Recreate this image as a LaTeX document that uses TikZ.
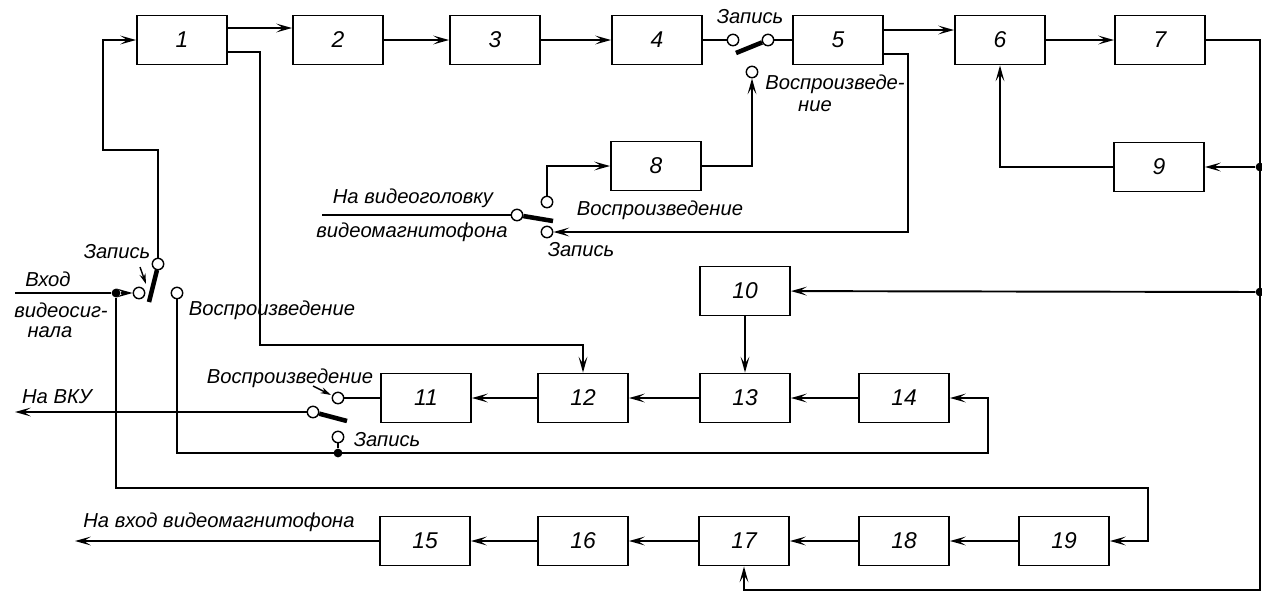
\documentclass[tikz,border=0pt]{standalone}
\usepackage{fontspec}
\setmainfont{Liberation Sans}
\usetikzlibrary{arrows.meta}
\tikzset{
  blk/.style={draw, line width=1.1pt, minimum width=1.8cm, minimum height=0.98cm, inner sep=0pt, font=\itshape\fontsize{13}{13}\selectfont},
  lbl/.style={inner sep=0pt, font=\itshape\fontsize{11.5}{13}\selectfont},
  wire/.style={line width=1.1pt},
  arr/.style={wire, -{Stealth[length=9pt, width=5pt, inset=4pt]}},
  ptr/.style={line width=0.8pt, -{Stealth[length=6pt, width=3.5pt, inset=2pt]}},
  contact/.style={circle, draw, line width=0.8pt, fill=white, inner sep=0pt, minimum size=6.5pt},
  junct/.style={circle, fill=black, inner sep=0pt, minimum size=5pt},
  blade/.style={line width=2.6pt},
}
\begin{document}
\begin{tikzpicture}[x=0.02cm, y=-0.02cm]
\useasboundingbox (0,0) rectangle (1262,596);

% blocks
\node[blk] (b1) at (182,40) {1};
\node[blk] (b2) at (338,40) {2};
\node[blk] (b3) at (495,40) {3};
\node[blk] (b4) at (657,40) {4};
\node[blk] (b5) at (838,40) {5};
\node[blk] (b6) at (1000,40) {6};
\node[blk] (b7) at (1160,40) {7};
\node[blk] (b8) at (656,166) {8};
\node[blk] (b9) at (1159,167) {9};
\node[blk] (b10) at (745,291) {10};
\node[blk] (b11) at (426,398) {11};
\node[blk] (b12) at (583,398) {12};
\node[blk] (b13) at (745,398) {13};
\node[blk] (b14) at (904,398) {14};
\node[blk] (b15) at (425,541) {15};
\node[blk] (b16) at (583,541) {16};
\node[blk] (b17) at (744,541) {17};
\node[blk] (b18) at (904,541) {18};
\node[blk] (b19) at (1064,541) {19};

% contacts
\node[contact] (tin) at (139,293) {};
\node[contact] (tz) at (158,264) {};
\node[contact] (tp) at (177,293) {};
\node[contact] (s4a) at (733,40) {};
\node[contact] (s4b) at (768,40) {};
\node[contact] (s4c) at (752,72) {};
\node[contact] (vh) at (517,215) {};
\node[contact] (vhp) at (547,202) {};
\node[contact] (vhz) at (547,232) {};
\node[contact] (vp) at (313,412) {};
\node[contact] (vkp) at (338,398) {};
\node[contact] (vkz) at (338,437) {};

% junctions
\node[junct] (jin) at (116,293) {};
\node[junct] (j9) at (1260,167) {};
\node[junct] (j10) at (1260,292) {};
\node[junct] (j14) at (338,453) {};

% free ends
\coordinate (vin) at (15,293);
\coordinate (vku) at (15,412);
\coordinate (vout) at (75,541);
\coordinate (vhl) at (322,215);
\coordinate (tb1) at (149,302);
\coordinate (tb2) at (157,270);
\coordinate (s4t) at (736,53);
\coordinate (vht) at (553,221);
\coordinate (vkt) at (347,421);
\coordinate (pz1) at (140,267);
\coordinate (pz2) at (146,284);
\coordinate (pv1) at (313,386);
\coordinate (pv2) at (331,395);

% upper chain
\draw[arr] (b1.east |- 0,28) -- (b2.west |- 0,28);
\draw[arr] (b2) -- (b3);
\draw[arr] (b3) -- (b4);
\draw[wire] (b4) -- (s4a);
\draw[wire] (s4b) -- (b5);
\draw[blade] (s4b) -- (s4t);
\draw[arr] (b8.east) -| (s4c);
\draw[arr] (b5.east |- 0,30) -- (b6.west |- 0,30);
\draw[arr] (b6) -- (b7);
\draw[arr] (b7.east) -| (1260,590) -| (b17.south);
\draw[arr] (j9) -- (b9);
\draw[arr] (b9.west) -| (b6.south);
\draw[arr] (j10) -- (b10);

% video head switch
\draw[wire] (vhl) -- (vh);
\draw[blade] (vh) -- (vht);
\draw[arr] (vhp) |- (b8.west);
\draw[arr] (b5.east |- 0,54) -| (908,232) -- (vhz);

% input switch
\draw[wire] (vin) -- (jin);
\draw[arr] (jin) -- (tin);
\draw[blade] (tb1) -- (tb2);
\draw[arr] (tz) |- (103,150) |- (b1.west);
\draw[arr] (jin) |- (1148,488) |- (b19.east);
\draw[arr] (tp) |- (988,453) |- (b14.east);
\draw[ptr] (pz1) -- (pz2);

% lower chain
\draw[arr] (b1.east |- 0,52) -| (260,345) -| (b12.north);
\draw[arr] (b10) -- (b13);
\draw[arr] (b14) -- (b13);
\draw[arr] (b13) -- (b12);
\draw[arr] (b12) -- (b11);
\draw[wire] (b11) -- (vkp);
\draw[arr] (vp) -- (vku);
\draw[blade] (vp) -- (vkt);
\draw[wire] (j14) -- (vkz);
\draw[ptr] (pv1) -- (pv2);
\draw[arr] (b19) -- (b18);
\draw[arr] (b18) -- (b17);
\draw[arr] (b17) -- (b16);
\draw[arr] (b16) -- (b15);
\draw[arr] (b15) -- (vout);

% labels
\node[lbl] (lz1) at (750,17) {Запись};
\node[lbl] (lv1a) at (835,84) {Воспроизведе-};
\node[lbl] (lv1b) at (815,106) {ние};
\node[lbl] (lhd1) at (413,198) {На видеоголовку};
\node[lbl] (lhd2) at (412,232) {видеомагнитофона};
\node[lbl] (lv2) at (660,210) {Воспроизведение};
\node[lbl] (lz2) at (581,250) {Запись};
\node[lbl] (lin1) at (48,279) {Вход};
\node[lbl] (lin2) at (61,310) {видеосиг-};
\node[lbl] (lin3) at (50,332) {нала};
\node[lbl] (lz3) at (117,252) {Запись};
\node[lbl] (lv3) at (272,310) {Воспроизведение};
\node[lbl] (lv4) at (290,378) {Воспроизведение};
\node[lbl] (lvku) at (57,397) {На ВКУ};
\node[lbl] (lz4) at (387,440) {Запись};
\node[lbl] (lout) at (219,522) {На вход видеомагнитофона};
\end{tikzpicture}
\end{document}
